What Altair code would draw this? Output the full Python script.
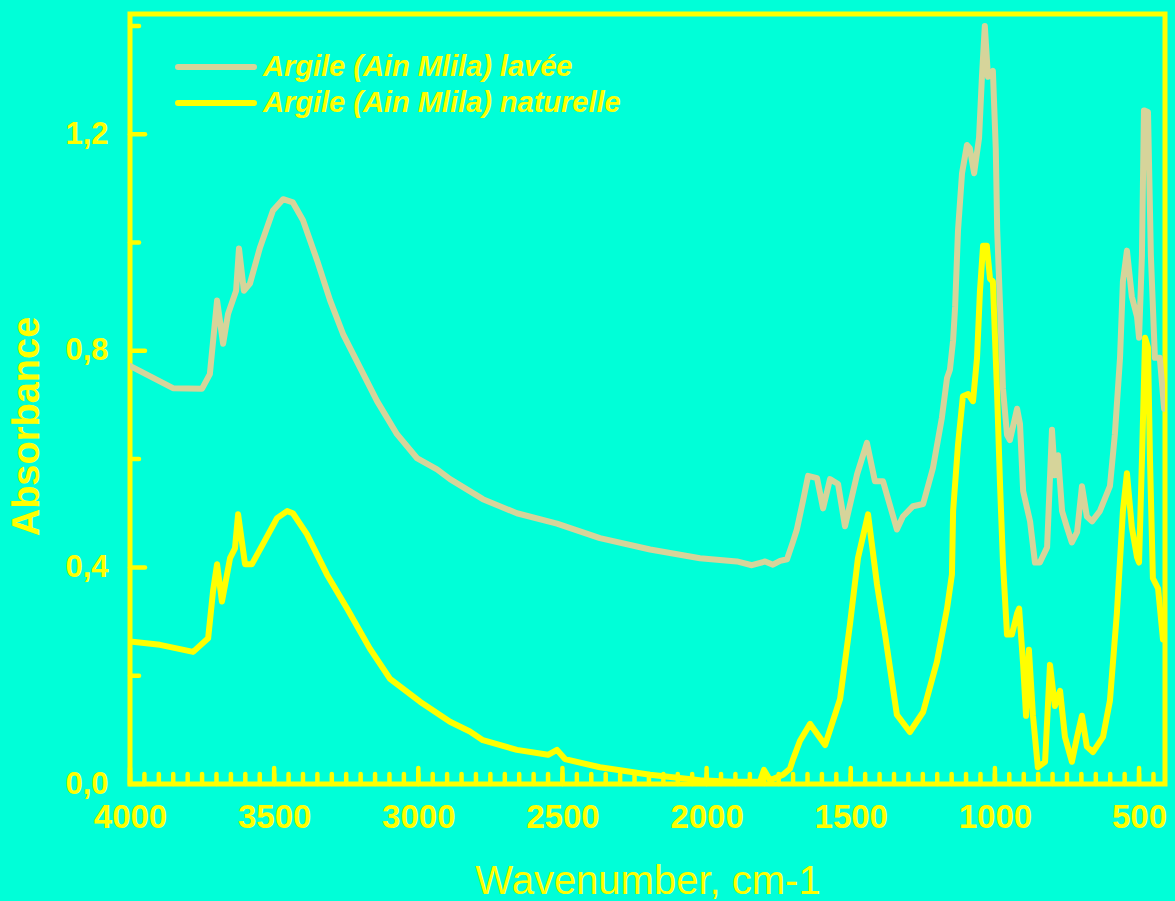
import altair as alt
import pandas as pd

# ---------------- data ----------------
series_names = ["Argile (Ain Mlila) lavée", "Argile (Ain Mlila) naturelle"]
series_colors = ["#D6D49A", "#FFFF00"]

wn_lavee = [4000, 3851, 3750, 3723, 3698, 3677, 3660, 3632, 3622, 3605, 3584, 3549,
            3504, 3469, 3435, 3400, 3351, 3306, 3261, 3202, 3143, 3074, 3005, 2935,
            2890, 2776, 2658, 2519, 2370, 2196, 2023, 1895, 1843, 1797, 1770, 1745,
            1721, 1700, 1687, 1666, 1648, 1617, 1596, 1572, 1544, 1520, 1478, 1444,
            1416, 1388, 1340, 1319, 1284, 1249, 1215, 1184, 1166, 1156, 1145, 1138,
            1128, 1114, 1097, 1087, 1072, 1055, 1045, 1035, 1024, 1007, 997, 992,
            982, 972, 958, 948, 923, 913, 902, 878, 861, 844, 819, 802, 792, 781,
            767, 750, 733, 715, 698, 681, 663, 636, 601, 584, 566, 556, 542, 525,
            507, 500, 490, 483, 469, 459, 445, 428, 413]
abs_lavee = [0.772, 0.731, 0.730, 0.757, 0.893, 0.813, 0.868, 0.911, 0.989, 0.911, 0.924, 0.991,
             1.059, 1.080, 1.074, 1.041, 0.967, 0.893, 0.831, 0.769, 0.707, 0.646, 0.602, 0.581,
             0.563, 0.526, 0.500, 0.481, 0.454, 0.433, 0.417, 0.411, 0.404, 0.411, 0.405, 0.412,
             0.415, 0.448, 0.470, 0.522, 0.569, 0.565, 0.509, 0.563, 0.554, 0.476, 0.572, 0.630,
             0.559, 0.559, 0.470, 0.494, 0.513, 0.517, 0.583, 0.676, 0.750, 0.765, 0.819, 0.881,
             1.022, 1.128, 1.180, 1.174, 1.128, 1.193, 1.306, 1.400, 1.306, 1.317, 1.174, 1.022,
             0.881, 0.730, 0.645, 0.635, 0.693, 0.665, 0.541, 0.485, 0.409, 0.409, 0.437, 0.654, 0.570, 0.607,
             0.504, 0.474, 0.446, 0.465, 0.550, 0.494, 0.485, 0.504, 0.550, 0.645, 0.787, 0.928, 0.985, 0.900,
             0.863, 0.824, 0.976, 1.244, 1.241, 0.976, 0.787, 0.787, 0.693]

wn_naturelle = [4000, 3896, 3781, 3729, 3712, 3698, 3681, 3653, 3636, 3625, 3601, 3577,
                3539, 3490, 3455, 3435, 3386, 3317, 3247, 3168, 3098, 2994, 2890, 2821,
                2776, 2658, 2550, 2519, 2491, 2370, 2196, 2023, 1908, 1815, 1801, 1780,
                1735, 1711, 1700, 1676, 1641, 1589, 1537, 1503, 1475, 1440, 1409, 1381,
                1340, 1295, 1249, 1201, 1166, 1149, 1145, 1128, 1111, 1093, 1076, 1062,
                1052, 1041, 1028, 1017, 1007, 993, 982, 972, 958, 941, 923, 916, 902,
                892, 882, 868, 851, 826, 809, 792, 774, 757, 733, 715, 698, 681, 660,
                625, 601, 577, 556, 542, 525, 507, 500, 490, 479, 469, 462, 452, 434, 417]
abs_naturelle = [0.263, 0.257, 0.244, 0.269, 0.356, 0.406, 0.337, 0.417, 0.435, 0.498, 0.406, 0.406,
                 0.443, 0.491, 0.504, 0.500, 0.461, 0.387, 0.324, 0.250, 0.194, 0.152, 0.115, 0.097,
                 0.081, 0.063, 0.054, 0.063, 0.046, 0.031, 0.017, 0.007, 0.004, 0.004, 0.026, 0.007,
                 0.017, 0.028, 0.046, 0.080, 0.111, 0.072, 0.157, 0.294, 0.417, 0.498, 0.369, 0.276,
                 0.128, 0.096, 0.133, 0.226, 0.324, 0.387, 0.504, 0.626, 0.716, 0.720, 0.707, 0.787,
                 0.909, 0.994, 0.994, 0.933, 0.928, 0.730, 0.550, 0.409, 0.276, 0.276, 0.315, 0.324, 0.220,
                 0.126, 0.248, 0.126, 0.031, 0.041, 0.220, 0.144, 0.172, 0.087, 0.041, 0.087, 0.126, 0.069, 0.059,
                 0.087, 0.154, 0.315, 0.504, 0.574, 0.474, 0.419, 0.409, 0.598, 0.824, 0.806, 0.598, 0.380, 0.361, 0.267]

x_major_ticks = [4000, 3500, 3000, 2500, 2000, 1500, 1000, 500]
x_minor_ticks = list(range(4000, 449, -50))
y_major_ticks = [0.0, 0.4, 0.8, 1.2]
y_minor_ticks = [0.2, 0.6, 1.0, 1.4]

# ---------------- styling ----------------
BG = "#00FFD8"
YEL = "#FFFF00"
FONT = "Liberation Sans"
W, H = 1035, 770

spec_df = pd.DataFrame({
    "wn": wn_lavee + wn_naturelle,
    "A": abs_lavee + abs_naturelle,
    "series": [series_names[0]] * len(wn_lavee) + [series_names[1]] * len(wn_naturelle),
    "idx": list(range(len(wn_lavee))) + list(range(len(wn_naturelle))),
})

xs = alt.Scale(domain=[4000, 410], nice=False, zero=False)
ys = alt.Scale(domain=[0, 1.422], nice=False, zero=False)
cs = alt.Scale(domain=series_names, range=series_colors)

x_axis = alt.Axis(values=x_major_ticks, format="d", domain=False, ticks=False, grid=False,
                  labelFont=FONT, labelFontSize=33, labelFontWeight="bold", labelColor=YEL,
                  labelPadding=17, labelFlush=False, labelOverlap=False,
                  titleFont=FONT, titleFontSize=40, titleFontWeight="normal", titleColor=YEL,
                  titleBaseline="alphabetic", titleY=109)
y_axis = alt.Axis(values=y_major_ticks, labelExpr="replace(format(datum.value, '.1f'), '.', ',')",
                  domain=False, ticks=False, grid=False,
                  labelFont=FONT, labelFontSize=31, labelFontWeight="bold", labelColor=YEL,
                  labelPadding=22, labelBaseline="middle",
                  titleFont=FONT, titleFontSize=38, titleFontWeight="bold", titleColor=YEL,
                  titleAngle=270, titleBaseline="alphabetic", titleAlign="center",
                  titleX=-92, titleY=412)

X_TITLE = "Wavenumber, cm-1"
Y_TITLE = "Absorbance"

tick_style = dict(color=YEL, strokeWidth=4.5, strokeCap="round")

x_minor = alt.Chart(pd.DataFrame({"wn": x_minor_ticks})).mark_rule(**tick_style).encode(
    x=alt.X("wn:Q", scale=xs, axis=x_axis, title=X_TITLE), y=alt.value(H), y2=alt.value(H - 10))
x_major = alt.Chart(pd.DataFrame({"wn": x_major_ticks})).mark_rule(**tick_style).encode(
    x=alt.X("wn:Q", scale=xs, axis=x_axis, title=X_TITLE), y=alt.value(H), y2=alt.value(H - 16))
y_minor = alt.Chart(pd.DataFrame({"A": y_minor_ticks})).mark_rule(**tick_style).encode(
    y=alt.Y("A:Q", scale=ys, axis=y_axis, title=Y_TITLE), x=alt.value(0), x2=alt.value(9))
y_major = alt.Chart(pd.DataFrame({"A": y_major_ticks})).mark_rule(**tick_style).encode(
    y=alt.Y("A:Q", scale=ys, axis=y_axis, title=Y_TITLE), x=alt.value(0), x2=alt.value(15))

lines = alt.Chart(spec_df).mark_line(strokeWidth=6, strokeJoin="round", strokeCap="round", clip=True).encode(
    x=alt.X("wn:Q", scale=xs, axis=x_axis, title=X_TITLE),
    y=alt.Y("A:Q", scale=ys, axis=y_axis, title=Y_TITLE),
    color=alt.Color("series:N", scale=cs, legend=None),
    order=alt.Order("idx:Q"),
)

leg_df = pd.DataFrame({"series": series_names})
leg_y = alt.Y("series:N", scale=alt.Scale(type="point", domain=series_names, range=[53, 89], padding=0), axis=None)
leg_lines = alt.Chart(leg_df).mark_rule(strokeWidth=6, strokeCap="round").encode(
    x=alt.value(48), x2=alt.value(124), y=leg_y,
    color=alt.Color("series:N", scale=cs, legend=None))
leg_text = alt.Chart(leg_df).mark_text(align="left", baseline="middle", font=FONT, fontSize=29,
                                       fontStyle="italic", fontWeight="bold", color=YEL).encode(
    x=alt.value(133), y=leg_y, text="series:N")

main = alt.layer(lines, x_minor, x_major, y_minor, y_major)
legend = alt.layer(leg_lines, leg_text)

chart = alt.layer(main, legend).resolve_scale(y="independent").properties(
    width=W, height=H,
    padding={"left": 130, "top": 14, "right": 10, "bottom": 117},
    autosize=alt.AutoSizeParams(type="none"),
    background=BG,
).configure_view(stroke=YEL, strokeWidth=5, fill=None)

chart.save("out.html", embed_options={"renderer": "svg", "actions": False})
